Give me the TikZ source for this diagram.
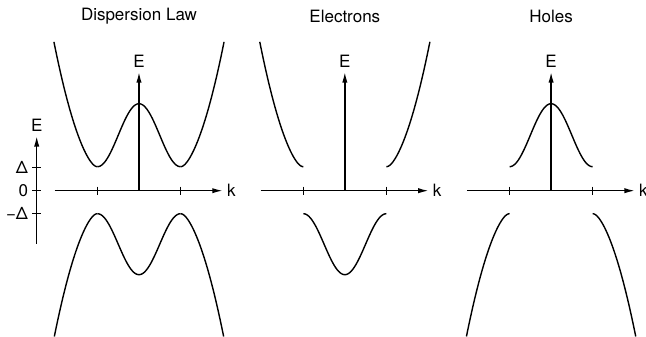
\documentclass[tikz,border=0pt]{standalone}
\usepackage{fontspec}
\setmainfont{TeX Gyre Heros}
\usetikzlibrary{arrows.meta}
\tikzset{
  axis/.style={line width=1.2pt,-{Latex[length=9pt,width=4.5pt]}},
  band/.style={line width=1.2pt,smooth,samples=60},
  tickmark/.style={line width=1.2pt},
  lbl/.style={font=\fontsize{14.5}{17}\selectfont},
}
% upper and lower bands, k in units of k0, E in px
\newcommand{\bellup}{\draw[band,domain=-1:1] plot (\x,{24+31.5*(1+cos(180*\x))});}
\newcommand{\belldown}{\draw[band,domain=-1:1] plot (\x,{-23-30.5*(1+cos(180*\x))});}
\newcommand{\outerup}{%
  \draw[band,domain=0:1.05] plot (-1-\x,{24+41.5*(sqrt(0.0225+\x*\x)-0.15)+79*\x*\x});
  \draw[band,domain=0:1.05] plot (1+\x,{24+41.5*(sqrt(0.0225+\x*\x)-0.15)+79*\x*\x});}
\newcommand{\outerdown}{%
  \draw[band,domain=0:1.04] plot (-1-\x,{-23-41.5*(sqrt(0.0225+\x*\x)-0.15)-79*\x*\x});
  \draw[band,domain=0:1.04] plot (1+\x,{-23-41.5*(sqrt(0.0225+\x*\x)-0.15)-79*\x*\x});}
\begin{document}
\begin{tikzpicture}[x=1.245cm,y=0.03cm,lbl]
\useasboundingbox (-3.349,-146.3) rectangle (12.217,190.7);
% energy scale on the left
\draw[axis] (-2.465,-53.3) -- (-2.465,54.7) node[above] (escale) {E};
\draw[tickmark] (-2.573,23) -- (-2.357,23);
\draw[tickmark] (-2.573,0) -- (-2.357,0);
\draw[tickmark] (-2.573,-23) -- (-2.357,-23);
\node[left] (dplus) at (-2.573,23) {Δ};
\node[left] (dzero) at (-2.573,0) {0};
\node[left] (dminus) at (-2.573,-23) {−Δ};
% three panels
\foreach \p/\t/\n in {0/Dispersion Law/disp,4.96/Electrons/el,9.93/Holes/ho} {
  \node (\n-title) at (\p,174.7) {\t};
  \draw[axis] (\p-2.03,0) -- (\p+2.02,0) node[right,inner sep=3pt] (\n-k) {k};
  \draw[axis] (\p,0) -- (\p,118.7) node[above] (\n-e) {E};
  \draw[tickmark] (\p-1,4) -- (\p-1,-4);
  \draw[tickmark] (\p+1,4) -- (\p+1,-4);
}
% Dispersion Law
\bellup
\belldown
\outerup
\outerdown
% Electrons
\begin{scope}[shift={(4.96,0)}]
\outerup
\belldown
\end{scope}
% Holes
\begin{scope}[shift={(9.93,0)}]
\bellup
\outerdown
\end{scope}
\end{tikzpicture}
\end{document}
